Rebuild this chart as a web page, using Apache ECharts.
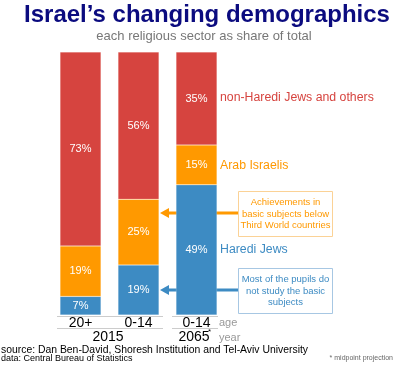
<!DOCTYPE html>
<html style="height: 100%">
<head>
    <meta charset="utf-8">
</head>
<body style="height: 100%; margin: 0; background: #fff">
    <div id="container" style="width: 400px; height: 376px"></div>
    <script src="https://cdn.jsdelivr.net/npm/echarts@6/dist/echarts.min.js"></script>
    <script type="text/javascript">
        // age groups (x categories)
        var ages = ['20+', '0-14', '0-14'];
        var years = ['2015', '2065'];
        // share of total, in %, as printed on the bars
        var haredi = [7, 19, 49];
        var arab = [19, 25, 15];
        var nonHaredi = [73, 56, 35];

        var red = '#d6443f', orange = '#ff9900', blue = '#3d8bc3';

        // printed shares are rounded, so scale each column to its own total
        var totals = ages.map(function (a, i) { return haredi[i] + arab[i] + nonHaredi[i]; });
        function share(arr) {
            return arr.map(function (v, i) { return { value: v / totals[i] * 100, shown: v }; });
        }

        var dom = document.getElementById('container');
        var myChart = echarts.init(dom);
        var font = 'Liberation Sans, Arial, sans-serif';

        function seg(name, arr, color) {
            return {
                name: name,
                type: 'bar',
                stack: 'all',
                barWidth: 41,
                data: share(arr),
                itemStyle: { color: color, borderColor: 'rgba(255,255,255,0.35)', borderWidth: 0.5 },
                label: {
                    show: true,
                    position: 'inside',
                    color: '#fff',
                    fontFamily: font,
                    fontSize: 11,
                    formatter: function (p) { return p.data.shown + '%'; }
                }
            };
        }

        function arrow(y, color) {
            return [
                { type: 'line', z: 0, shape: { x1: 166, y1: y, x2: 238, y2: y }, style: { stroke: color, lineWidth: 3 } },
                { type: 'polygon', z: 0, shape: { points: [[160, y], [169, y - 5], [169, y + 5]] }, style: { fill: color } }
            ];
        }

        function box(y, color, border, lines) {
            return [
                { type: 'rect', z: 10, shape: { x: 238.5, y: y + 0.5, width: 94, height: 45 }, style: { fill: '#fff', stroke: border, lineWidth: 1 } },
                { type: 'text', z: 11, x: 285.5, y: y + 23, style: { text: lines.join('\n'), fill: color, font: '9.5px ' + font, align: 'center', verticalAlign: 'middle', lineHeight: 11.5 } }
            ];
        }

        var greyLine = '#cccccc';
        var graphics = [].concat(
            arrow(213, orange),
            arrow(290, blue),
            box(191, orange, '#fbd296', ['Achievements in', 'basic subjects below', 'Third World countries']),
            box(268, blue, '#a7c7e3', ['Most of the pupils do', 'not study the basic', 'subjects']),
            [
                { type: 'text', x: 207, y: 15, style: { text: 'Israel\u2019s changing demographics', fill: '#0b0b7f', font: 'bold 24px ' + font, align: 'center', verticalAlign: 'middle' } },
                { type: 'text', x: 204, y: 36, style: { text: 'each religious sector as share of total', fill: '#777', font: '13px ' + font, align: 'center', verticalAlign: 'middle' } },
                { type: 'text', x: 220, y: 98, style: { text: 'non-Haredi Jews and others', fill: red, font: '12.3px ' + font, verticalAlign: 'middle' } },
                { type: 'text', x: 220, y: 166, style: { text: 'Arab Israelis', fill: orange, font: '12.3px ' + font, verticalAlign: 'middle' } },
                { type: 'text', x: 220, y: 250, style: { text: 'Haredi Jews', fill: blue, font: '12.3px ' + font, verticalAlign: 'middle' } },
                { type: 'line', shape: { x1: 57, y1: 316.5, x2: 163, y2: 316.5 }, style: { stroke: greyLine, lineWidth: 1 } },
                { type: 'line', shape: { x1: 172, y1: 316.5, x2: 218, y2: 316.5 }, style: { stroke: greyLine, lineWidth: 1 } },
                { type: 'line', shape: { x1: 57, y1: 328.5, x2: 163, y2: 328.5 }, style: { stroke: greyLine, lineWidth: 1 } },
                { type: 'line', shape: { x1: 172, y1: 328.5, x2: 218, y2: 328.5 }, style: { stroke: greyLine, lineWidth: 1 } },
                { type: 'text', x: 219, y: 323, style: { text: 'age', fill: '#999', font: '11px ' + font, verticalAlign: 'middle' } },
                { type: 'text', x: 219, y: 338, style: { text: 'year', fill: '#999', font: '11px ' + font, verticalAlign: 'middle' } },
                { type: 'text', x: 108, y: 337, style: { text: years[0], fill: '#000', font: '14px ' + font, align: 'center', verticalAlign: 'middle' } },
                { type: 'text', x: 194, y: 337, style: { text: years[1], fill: '#000', font: '14px ' + font, align: 'center', verticalAlign: 'middle' } },
                { type: 'text', x: 208, y: 332, style: { text: '*', fill: '#000', font: '8px ' + font, verticalAlign: 'middle' } },
                { type: 'text', x: 1, y: 350, style: { text: 'source: Dan Ben-David, Shoresh Institution and Tel-Aviv University', fill: '#000', font: '10.4px ' + font, verticalAlign: 'middle' } },
                { type: 'text', x: 1, y: 358.5, style: { text: 'data: Central Bureau of Statistics', fill: '#000', font: '9px ' + font, verticalAlign: 'middle' } },
                { type: 'text', x: 393, y: 358, style: { text: '* midpoint projection', fill: '#666', font: '7px ' + font, align: 'right', verticalAlign: 'middle' } }
            ]
        );

        var option = {
            animation: false,
            grid: { left: 51.5, width: 174, top: 52, height: 263 },
            xAxis: {
                type: 'category',
                data: ages,
                axisLine: { show: false },
                axisTick: { show: false },
                axisLabel: { color: '#000', fontSize: 14, fontFamily: font, margin: 1 }
            },
            yAxis: { type: 'value', min: 0, max: 100, show: false },
            series: [
                seg('Haredi Jews', haredi, blue),
                seg('Arab Israelis', arab, orange),
                seg('non-Haredi Jews and others', nonHaredi, red)
            ],
            graphic: graphics
        };

        myChart.setOption(option);
    </script>
</body>
</html>
